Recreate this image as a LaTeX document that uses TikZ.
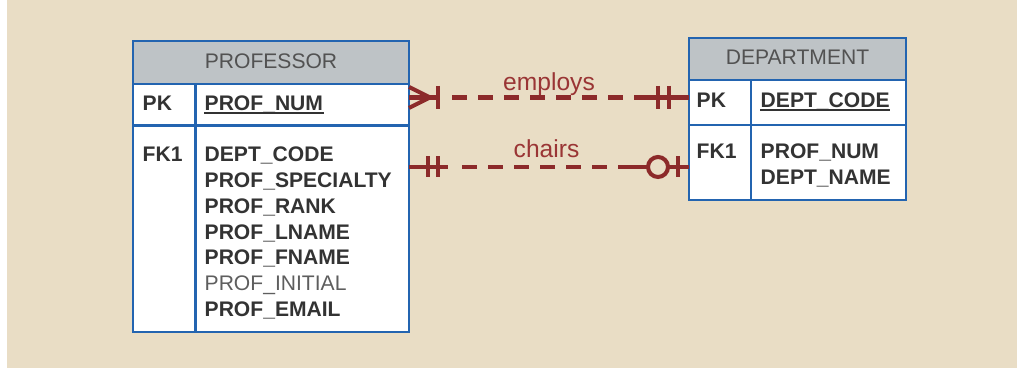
\documentclass[tikz,border=0pt]{standalone}
\usepackage{fontspec}
\setmainfont{Liberation Sans}
\definecolor{bgbeige}{HTML}{E9DDC5}
\definecolor{tblblue}{HTML}{2364B0}
\definecolor{hdrgray}{HTML}{BEC3C6}
\definecolor{txtgray}{HTML}{333333}
\definecolor{lightgray}{HTML}{5E5E5E}
\definecolor{relred}{HTML}{8C2A2A}
\definecolor{labred}{HTML}{9A3535}
\tikzset{
  cellbox/.style={draw=tblblue, line width=0.8pt, fill=white, inner sep=0pt, outer sep=0pt, anchor=north west},
  hdrbox/.style={cellbox, fill=hdrgray},
  hdrtext/.style={font=\fontsize{6}{7.3}\selectfont, text=txtgray!85, anchor=base, inner sep=0pt},
  attr/.style={font=\bfseries\fontsize{6}{7.3}\selectfont, text=txtgray, anchor=base west, inner sep=0pt},
  attrlight/.style={attr, font=\mdseries\fontsize{6}{7.3}\selectfont, text=lightgray},
  keyline/.style={draw=txtgray, line width=0.45pt},
  rel/.style={draw=relred, line width=1.15pt},
  reldash/.style={rel, dash pattern=on 4.2pt off 3.2pt},
  rellabel/.style={font=\fontsize{7}{8}\selectfont, text=labred, anchor=base, inner sep=0pt}
}
\begin{document}
\begin{tikzpicture}
\useasboundingbox (0,0) rectangle (10.17,-3.68);
\fill[bgbeige] (0,0) rectangle (10.17,-3.68);
\fill[white] (0,0) rectangle (0.07,-3.68);

% PROFESSOR
\node[hdrbox, minimum width=2.76cm, minimum height=0.43cm] (prof-hdr) at (1.33,-0.41) {};
\node[cellbox, minimum width=2.76cm, minimum height=0.415cm] (prof-pk) at (prof-hdr.south west) {};
\node[cellbox, minimum width=2.76cm, minimum height=2.065cm] (prof-att) at (prof-pk.south west) {};
\coordinate (prof-div) at (1.955,-0.84);
\draw[draw=tblblue, line width=0.8pt] (prof-div) -- (prof-div |- prof-att.south);
\node[hdrtext] (prof-title) at (2.71,-0.69) {PROFESSOR};
\node[attr] (prof-pkkey) at (1.42,-1.11) {PK};
\node[attr] (prof-pkname) at (2.04,-1.11) {PROF\_NUM};
\draw[keyline] ([yshift=-0.2mm]prof-pkname.base west) -- ([yshift=-0.2mm]prof-pkname.base east);
\node[attr] (prof-fkkey) at (1.42,-1.62) {FK1};
\foreach \txt/\sty [count=\i from 0] in {DEPT\_CODE/attr, PROF\_SPECIALTY/attr, PROF\_RANK/attr, PROF\_LNAME/attr, PROF\_FNAME/attr, PROF\_INITIAL/attrlight, PROF\_EMAIL/attr}
  \node[\sty] (prof-a\i) at (2.04,-1.62-0.257*\i) {\txt};

% DEPARTMENT
\node[hdrbox, minimum width=2.17cm, minimum height=0.42cm] (dept-hdr) at (6.89,-0.38) {};
\node[cellbox, minimum width=2.17cm, minimum height=0.45cm] (dept-pk) at (dept-hdr.south west) {};
\node[cellbox, minimum width=2.17cm, minimum height=0.75cm] (dept-att) at (dept-pk.south west) {};
\coordinate (dept-div) at (7.51,-0.80);
\draw[draw=tblblue, line width=0.8pt] (dept-div) -- (dept-div |- dept-att.south);
\node[hdrtext] (dept-title) at (7.975,-0.65) {DEPARTMENT};
\node[attr] (dept-pkkey) at (6.96,-1.08) {PK};
\node[attr] (dept-pkname) at (7.60,-1.08) {DEPT\_CODE};
\draw[keyline] ([yshift=-0.2mm]dept-pkname.base west) -- ([yshift=-0.2mm]dept-pkname.base east);
\node[attr] (dept-fkkey) at (6.96,-1.59) {FK1};
\node[attr] (dept-a0) at (7.60,-1.59) {PROF\_NUM};
\node[attr] (dept-a1) at (7.60,-1.85) {DEPT\_NAME};

% employs: many (mandatory) to one
\coordinate (emp-l) at (prof-pk.east |- 0,-0.975);
\coordinate (emp-r) at (dept-pk.west |- 0,-0.975);
\draw[rel] (emp-l) -- ([xshift=2.9mm]emp-l);
\draw[rel] ([yshift=1.05mm]emp-l) -- ([xshift=2.1mm]emp-l) -- ([yshift=-1.05mm]emp-l);
\draw[rel] ([xshift=2.9mm,yshift=1.15mm]emp-l) -- ([xshift=2.9mm,yshift=-1.15mm]emp-l);
\draw[reldash] ([xshift=4.3mm]emp-l) -- ([xshift=-4.3mm]emp-r) node[rellabel, midway, yshift=0.7mm] (emp-lab) {employs};
\draw[rel] ([xshift=-4.3mm]emp-r) -- (emp-r);
\draw[rel] ([xshift=-3.1mm,yshift=1.15mm]emp-r) -- ([xshift=-3.1mm,yshift=-1.15mm]emp-r);
\draw[rel] ([xshift=-2.0mm,yshift=1.15mm]emp-r) -- ([xshift=-2.0mm,yshift=-1.15mm]emp-r);

% chairs: one to zero or one
\coordinate (chr-l) at (prof-att.east |- 0,-1.67);
\coordinate (chr-r) at (dept-att.west |- 0,-1.67);
\draw[rel] (chr-l) -- ([xshift=3.9mm]chr-l);
\draw[rel] ([xshift=1.9mm,yshift=1.05mm]chr-l) -- ([xshift=1.9mm,yshift=-1.05mm]chr-l);
\draw[rel] ([xshift=2.9mm,yshift=1.05mm]chr-l) -- ([xshift=2.9mm,yshift=-1.05mm]chr-l);
\draw[reldash] ([xshift=5.3mm]chr-l) -- ([xshift=-5.8mm]chr-r) node[rellabel, midway, yshift=0.9mm] (chr-lab) {chairs};
\draw[rel] ([xshift=-5.8mm]chr-r) -- ([xshift=-4.1mm]chr-r);
\draw[rel] ([xshift=-3.1mm]chr-r) circle (1mm);
\draw[rel] ([xshift=-2.1mm]chr-r) -- (chr-r);
\draw[rel] ([xshift=-1.1mm,yshift=1.05mm]chr-r) -- ([xshift=-1.1mm,yshift=-1.05mm]chr-r);
\end{tikzpicture}
\end{document}
